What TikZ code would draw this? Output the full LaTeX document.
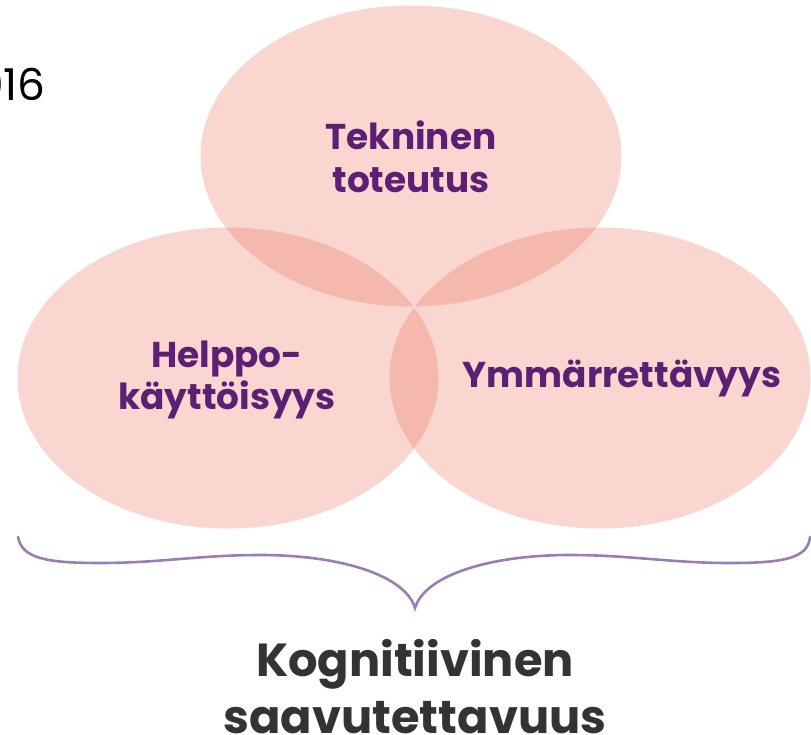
\documentclass[tikz,border=0pt]{standalone}
\usepackage{fontspec}
\setmainfont{Poppins}
\usetikzlibrary{shapes.geometric}
\definecolor{vennfill}{RGB}{233,103,77}
\definecolor{vennpurple}{RGB}{91,31,115}
\definecolor{bracecol}{RGB}{154,125,181}
\definecolor{darktext}{RGB}{51,51,51}

\begin{document}
\begin{tikzpicture}[x=1bp,y=-1bp]

    \tikzset{
      area/.style={
        ellipse,
        fill=vennfill,
        fill opacity=0.27,
        text opacity=1,
        minimum width=421bp,
        minimum height=301bp,
        inner sep=0pt,
      },
      lbl/.style={
        text=vennpurple,
        font=\fontsize{36}{43}\selectfont\bfseries,
        align=center,
        inner sep=0pt,
      },
    }
    \useasboundingbox (0,0) rectangle (811,735);
    \clip (0,0) rectangle (811,735);
    \node[anchor=base east, inner sep=0pt, font=\fontsize{44}{52}\selectfont] (year) at (46,101) {016};

    \node[area] (tek) at (411,156) {};
    \node[area] (help) at (228,378) {};
    \node[area] (ymm) at (600,378) {};
    \node[lbl] (tekl) at (411,157) {Tekninen\\toteutus};
    \node[lbl] (helpl) at (227,380) {Helppo-\\käyttöisyys};
    \node[lbl, anchor=base] (ymml) at (622,387) {Ymmärrettävyys};

    \draw[color=bracecol, line width=2.6bp, line cap=round]
      (18,537) .. controls (22,558) and (45,563) .. (100,563)
      .. controls (160,563) and (200,555) .. (260,555)
      .. controls (340,555) and (405,575) .. (415,608)
      .. controls (425,575) and (490,555) .. (570,555)
      .. controls (630,555) and (670,563) .. (730,563)
      .. controls (785,563) and (808,558) .. (810,537);
    \coordinate (tip) at (415,608);

    \node[text=darktext, font=\fontsize{46.5}{57}\selectfont\bfseries, align=center, inner sep=0pt, anchor=north]
      (title) at (415,639) {Kognitiivinen\\saavutettavuus};

\end{tikzpicture}
\end{document}
